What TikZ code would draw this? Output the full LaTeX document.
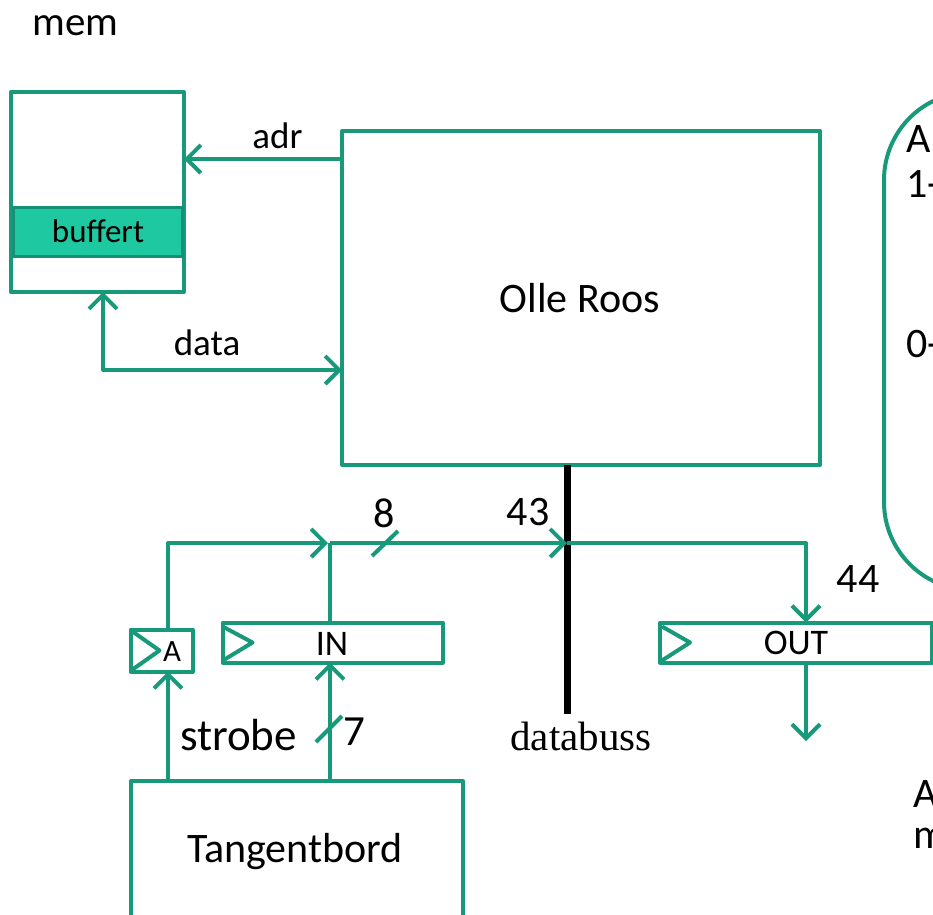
\documentclass[tikz,border=0pt]{standalone}
\usepackage{fontspec}
\setmainfont{Carlito}
\newfontfamily\busfont{Liberation Serif}
\usetikzlibrary{arrows.meta,calc}
\definecolor{wire}{RGB}{24,153,122}
\definecolor{buffill}{RGB}{30,201,161}
\definecolor{bufedge}{RGB}{20,145,116}
\newcommand{\fsz}[1]{\fontsize{#1}{#1}\selectfont}

\begin{document}
\begin{tikzpicture}[x=1pt,y=-1pt]
\tikzset{
  blk/.style={draw=wire, line width=4pt, line join=round, inner sep=0pt, outer sep=0pt},
  wirel/.style={draw=wire, line width=4pt, line join=round},
  tip/.tip={Straight Barb[length=14pt,width=28pt,line join=miter]},
  arr/.style={wirel, -tip},
  darr/.style={wirel, tip-tip},
  txt/.style={inner sep=0pt, anchor=base, text=black},
  bus/.style={draw=black, line width=7pt},
}
\useasboundingbox (0,0) rectangle (933,914);
\clip (0,0) rectangle (933,914);

% memory with buffer row
\node[blk, minimum width=173pt, minimum height=200pt] (mem) at (97.5,192) {};
\node[draw=bufedge, fill=buffill, line width=3pt, inner sep=0pt,
      minimum width=169pt, minimum height=49pt] (buf) at (98,232) {};
\node[txt] (buftxt) at (98,242) {\fsz{33}buffert};
\node[txt] (memtxt) at (75.5,35) {\fsz{41}mem};

% processor
\node[blk, minimum width=478pt, minimum height=334pt] (cpu) at (581,298) {};
\node[txt] (cputxt) at (580,312) {\fsz{42}Olle Roos};

% registers with clock inputs
\node[blk, minimum width=62pt, minimum height=42pt] (ffA) at (161.5,650.5) {};
\node[blk, minimum width=220pt, minimum height=40pt] (inreg) at (332.5,642.5) {};
\node[blk, minimum width=272pt, minimum height=40pt] (outreg) at (796,642.5) {};
\draw[wirel] ($(ffA.west)+(2,-19)$) -- ($(ffA.west)+(29,0)$) -- ($(ffA.west)+(2,19)$);
\draw[wirel] ($(inreg.west)+(2,-15)$) -- ($(inreg.west)+(30,0)$) -- ($(inreg.west)+(2,17)$);
\draw[wirel] ($(outreg.west)+(2,-16)$) -- ($(outreg.west)+(30,0)$) -- ($(outreg.west)+(2,18)$);
\node[txt] (Atxt) at (172,661) {\fsz{31}A};
\node[txt] (intxt) at (332,655) {\fsz{36}IN};
\node[txt] (outtxt) at (796,654) {\fsz{36}OUT};

% keyboard
\node[blk, minimum width=332pt, minimum height=178pt] (kbd) at (297,870) {};
\node[txt] (kbdtxt) at (295,862) {\fsz{42}Tangentbord};

% control block on the right
\draw[wirel, rounded corners=88pt] (1010,92) -- (884,92) -- (884,590) -- (1010,590);
\node[txt, anchor=base west] (r1) at (906,152) {\fsz{42}A};
\node[txt, anchor=base west] (r2) at (906,197) {\fsz{42}1-};
\node[txt, anchor=base west] (r3) at (906,357) {\fsz{42}0-};
\node[txt, anchor=base west] (r4) at (913,807) {\fsz{42}A};
\node[txt, anchor=base west] (r5) at (913,848) {\fsz{42}m};

% routing points
\coordinate (yadr) at (0,159);
\coordinate (xdat) at (103,0);
\coordinate (ydat) at (0,370);
\coordinate (xa) at (168,0);
\coordinate (jin) at (330,543);
\coordinate (jbus) at (567,543);
\coordinate (xout) at (806,0);
\coordinate (outend) at (806,741);
\coordinate (busend) at (567,714);

% memory connections
\draw[arr] (cpu.west |- yadr) -- (mem.east |- yadr);
\node[txt] (adrtxt) at (277.5,148) {\fsz{37}adr};
\draw[darr] (mem.south -| xdat) |- (cpu.west |- ydat);
\node[txt] (dattxt) at (207,355) {\fsz{37}data};

% data bus
\draw[bus] (cpu.south -| jbus) -- (busend);
\node[txt] (bustxt) at (581,750) {\busfont\fsz{41}databuss};

% input side
\draw[arr] (kbd.north -| xa) -- (ffA.south -| xa);
\draw[arr] (kbd.north -| jin) -- (inreg.south -| jin);
\draw[arr] (ffA.north -| xa) |- ([xshift=-2pt]jin);
\draw[wirel] (inreg.north -| jin) -- (jin);
\draw[arr] (jin) -- (jbus);
\draw[wirel] (316,742) -- (342,716);
\draw[wirel] (372,556) -- (398,531);
\node[txt] (strtxt) at (238.5,750) {\fsz{45}strobe};
\node[txt] (seven) at (354,745) {\fsz{43}7};
\node[txt] (eight) at (384,527) {\fsz{42}8};
\node[txt] (f3) at (528,525) {\fsz{42}43};

% output side
\draw[arr] (jbus) -| (outreg.north -| xout);
\draw[arr] (outreg.south -| xout) -- (outend);
\node[txt] (f4) at (858,592) {\fsz{42}44};
\end{tikzpicture}
\end{document}
